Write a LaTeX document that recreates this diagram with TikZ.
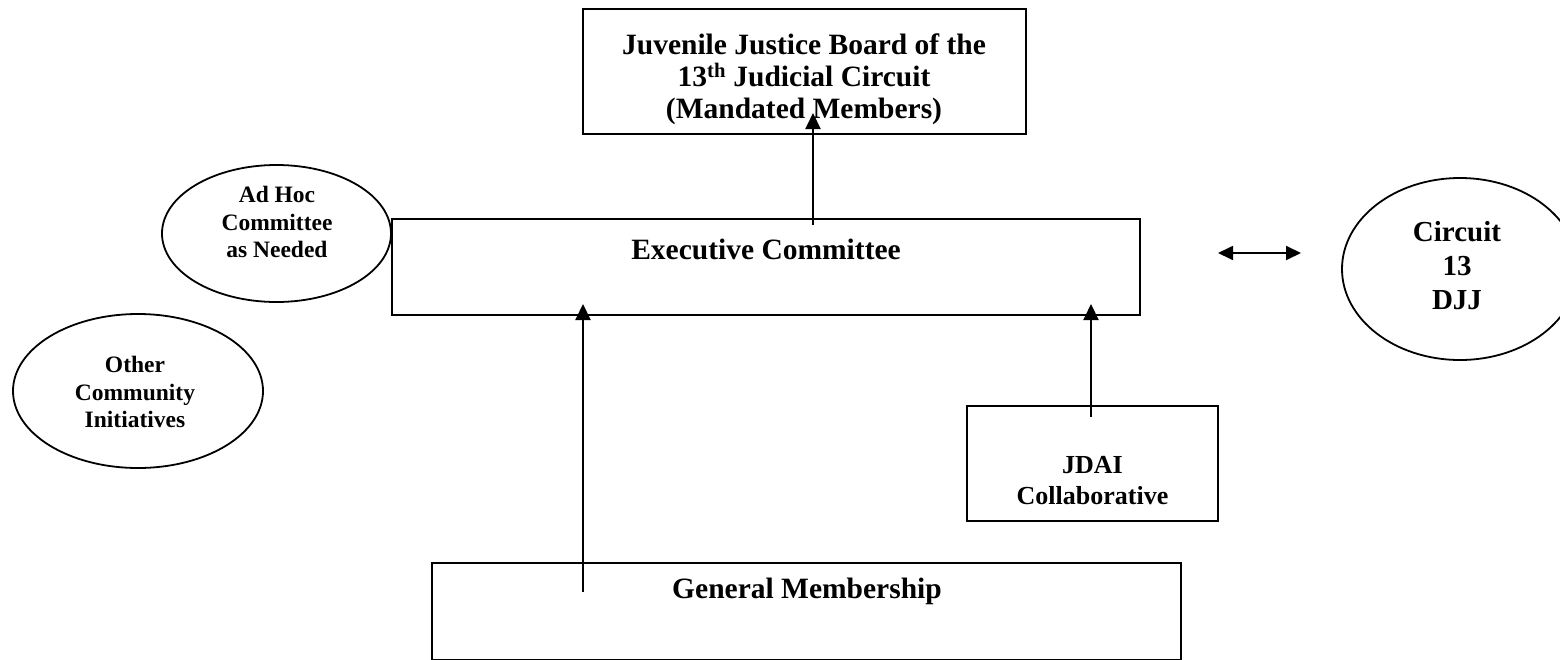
\documentclass[tikz,border=0pt]{standalone}
\usepackage{fontspec}
\setmainfont{Liberation Serif}
\usetikzlibrary{arrows.meta,shapes.geometric}
\begin{document}
\begin{tikzpicture}[x=1pt,y=-1pt,
  frame/.style={draw, line width=2.1pt, rectangle, inner sep=0pt},
  oval/.style={draw, ellipse, line width=1.8pt, inner sep=0pt},
  big/.style={font=\fontsize{29.5}{32}\selectfont\bfseries, align=center, inner sep=0pt},
  mid/.style={font=\fontsize{26}{31}\selectfont\bfseries, align=center, inner sep=0pt},
  small/.style={font=\fontsize{23.5}{27.5}\selectfont\bfseries, align=center, inner sep=0pt},
  arr/.style={line width=2.1pt, -{Triangle[length=16pt,width=15pt]}},
  dbl/.style={line width=1.8pt, {Triangle[length=15pt,width=14pt]}-{Triangle[length=15pt,width=14pt]}}
]
\useasboundingbox (0,0) rectangle (1560,659);
\clip (0,0) rectangle (1560,659);

% boxes
\node[frame, minimum width=443pt, minimum height=125pt] (board) at (804.5,71.5) {};
\node[big] (boardtxt) at (804,79) {Juvenile Justice Board of the\\13\textsuperscript{th} Judicial Circuit\\(Mandated Members)};

\node[frame, minimum width=748pt, minimum height=96pt] (exec) at (766,267) {};
\node[big] (exectxt) at (766,249) {Executive Committee};

\node[frame, minimum width=251pt, minimum height=115pt] (jdai) at (1092.5,463.5) {};
\node[mid] (jdaitxt) at (1092.5,481) {JDAI\\Collaborative};

\node[frame, minimum width=749pt, minimum height=97pt] (gen) at (806.5,611.5) {};
\node[big] (gentxt) at (807,591) {General Membership};

% ellipses
\node[oval, minimum width=229pt, minimum height=137pt] (adhoc) at (276.5,233.5) {};
\node[small] (adhoctxt) at (277,222) {Ad Hoc\\Committee\\as Needed};

\node[oval, minimum width=250pt, minimum height=154pt] (other) at (138,391) {};
\node[small] (othertxt) at (135,392) {Other\\Community\\Initiatives};

\node[oval, minimum width=236pt, minimum height=182pt] (djj) at (1460,269) {};
\node[big, font=\fontsize{29}{34}\selectfont\bfseries] (djjtxt) at (1457,266) {Circuit\\13\\DJJ};

% connector ends
\coordinate (a1s) at (813,225);
\coordinate (a1e) at (813,113);
\coordinate (a2s) at (583,592);
\coordinate (a2e) at (583,304);
\coordinate (a3s) at (1091,417);
\coordinate (a3e) at (1091,304);
\coordinate (d1) at (1218,253);
\coordinate (d2) at (1301,253);

\draw[arr] (a1s) -- (a1e);
\draw[arr] (a2s) -- (a2e);
\draw[arr] (a3s) -- (a3e);
\draw[dbl] (d1) -- (d2);
\end{tikzpicture}
\end{document}
